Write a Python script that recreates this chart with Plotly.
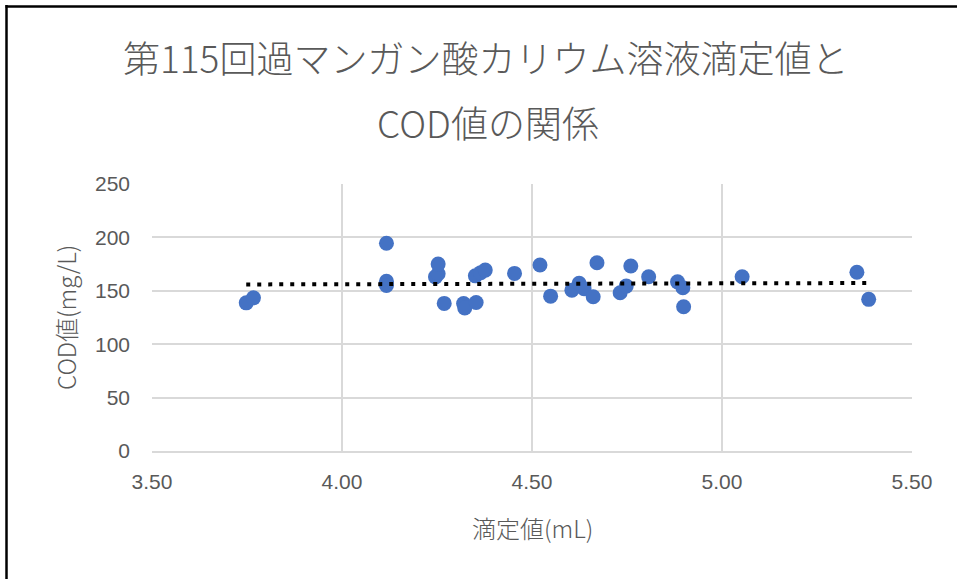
import numpy as np
import plotly.graph_objects as go

# Data
titration_ml = [3.748, 3.767, 4.117, 4.117, 4.117, 4.246, 4.253, 4.253, 4.269, 4.320,
                4.323, 4.351, 4.353, 4.365, 4.377, 4.454, 4.521, 4.549, 4.605, 4.624,
                4.637, 4.661, 4.671, 4.732, 4.748, 4.760, 4.807, 4.883, 4.897, 4.899,
                5.053, 5.355, 5.386]
cod_mgL = [138.7, 143.4, 194.5, 159.0, 155.0, 163.0, 166.0, 175.0, 138.2, 138.0,
           134.0, 164.0, 139.0, 167.0, 169.4, 166.3, 174.1, 145.0, 150.6, 157.0,
           152.0, 144.4, 176.3, 148.2, 154.4, 173.2, 163.1, 158.4, 152.8, 135.0,
           163.1, 167.3, 142.0]
x_ticks = [3.50, 4.00, 4.50, 5.00, 5.50]
x_tick_labels = ["3.50", "4.00", "4.50", "5.00", "5.50"]
y_ticks = [0, 50, 100, 150, 200, 250]

title_line1 = "第115回過マンガン酸カリウム溶液滴定値と"
title_line2 = "COD値の関係"
x_title = "滴定値(mL)"
y_title = "COD値(mg/L)"

# Linear trendline from data
xs = np.array(titration_ml)
ys = np.array(cod_mgL)
slope, intercept = np.polyfit(xs, ys, 1)
trend_x = [xs.min(), xs.max()]
trend_y = [slope * v + intercept for v in trend_x]

GRAY = "#595959"
GRID = "#d9d9d9"
FONT = "Noto Sans CJK JP"

fig = go.Figure()
fig.add_trace(go.Scatter(
    x=titration_ml, y=cod_mgL, mode="markers",
    marker=dict(color="#4472C4", size=15, line=dict(width=0)),
    showlegend=False, hoverinfo="x+y"))
fig.add_trace(go.Scatter(
    x=trend_x, y=trend_y, mode="lines",
    line=dict(color="black", width=4, dash="4px,7px"),
    showlegend=False, hoverinfo="skip"))

W, H = 957, 579
L, R, T, B = 152, 45, 184, 128
pw, ph = W - L - R, H - T - B

fig.update_layout(
    width=W, height=H,
    margin=dict(l=L, r=R, t=T, b=B),
    paper_bgcolor="white", plot_bgcolor="white",
    font=dict(family=FONT, color=GRAY),
    xaxis=dict(range=[3.5, 5.5], tickvals=x_ticks, ticktext=x_tick_labels,
               showgrid=True, gridcolor=GRID, gridwidth=1.5, zeroline=False,
               showline=True, linecolor=GRID, linewidth=1.5, mirror=False,
               ticks="", tickfont=dict(family="Liberation Sans", size=21, color=GRAY),
               ticklabelstandoff=11, fixedrange=True),
    yaxis=dict(range=[0, 250], tickvals=y_ticks,
               showgrid=True, gridcolor=GRID, gridwidth=1.5, zeroline=False,
               showline=False, ticks="",
               tickfont=dict(family="Liberation Sans", size=21, color=GRAY),
               ticklabelstandoff=21, fixedrange=True),
)

def px_ann(text, px, py, size, angle=0):
    return dict(text=text, xref="paper", yref="paper",
                x=(px - L) / pw, y=(H - B - py) / ph,
                xanchor="center", yanchor="middle", showarrow=False,
                textangle=angle,
                font=dict(family=FONT, size=size, color=GRAY, weight=300))

fig.update_layout(annotations=[
    px_ann(title_line1, 485, 57, 37),
    px_ann(title_line2, 488, 122, 37),
    px_ann(x_title, 532, 527, 24),
    px_ann(y_title, 65, 318, 24, angle=-90),
])

# Chart border (left and top lines as in the reference)
fig.add_shape(type="line", xref="paper", yref="paper",
              x0=(6.5 - L) / pw, x1=(6.5 - L) / pw,
              y0=(H - B - 5) / ph, y1=(H - B - H) / ph,
              line=dict(color="black", width=2.5))
fig.add_shape(type="line", xref="paper", yref="paper",
              x0=(5.5 - L) / pw, x1=(W - L) / pw,
              y0=(H - B - 6.5) / ph, y1=(H - B - 6.5) / ph,
              line=dict(color="black", width=2.5))

fig.write_html("out.html", config={"displayModeBar": False},
               post_script="document.body.style.margin='0';document.body.style.overflow='hidden';")
